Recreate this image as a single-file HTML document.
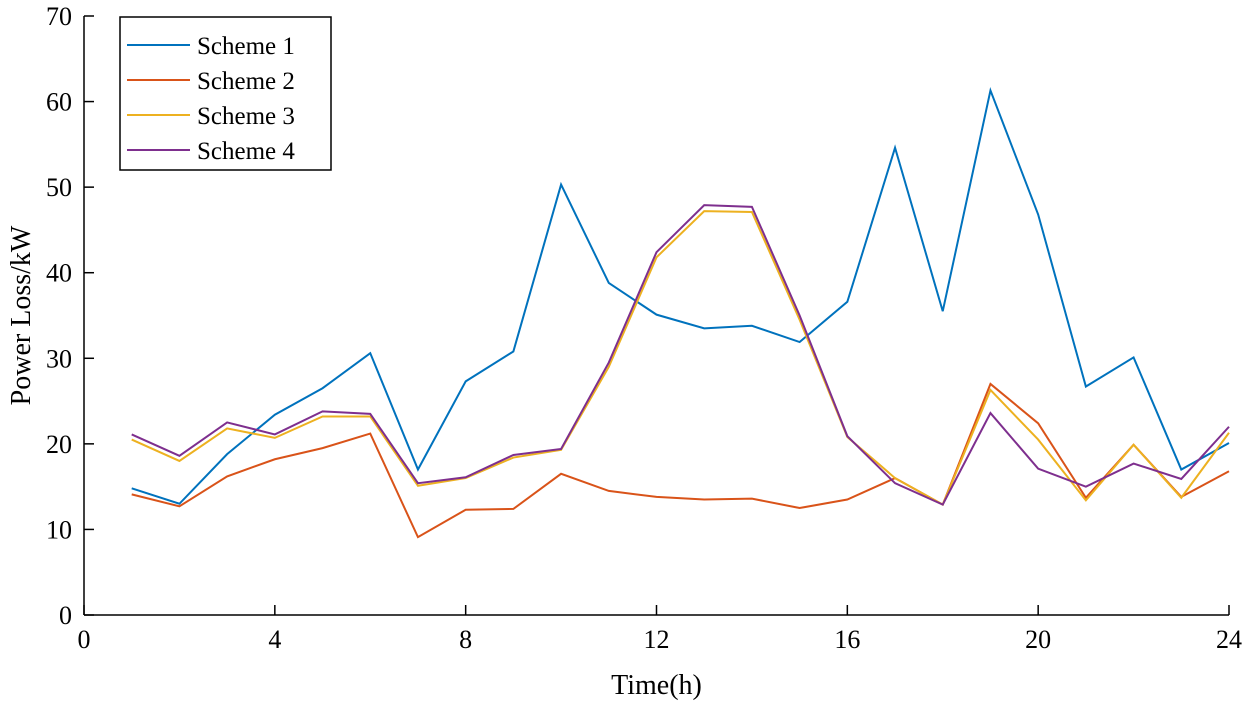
<!DOCTYPE html>
<html><head><meta charset="utf-8"><style>
body{margin:0;background:#fff}
svg{display:block}
text{font-family:"Liberation Serif",serif;fill:#000}
</style></head><body>
<svg id="chart" width="1250" height="707" xmlns="http://www.w3.org/2000/svg"></svg>
<script>
const hours=[1,2,3,4,5,6,7,8,9,10,11,12,13,14,15,16,17,18,19,20,21,22,23,24];
const scheme1=[14.8,13.0,18.8,23.4,26.5,30.6,17.0,27.3,30.8,50.3,38.8,35.1,33.5,33.8,31.9,36.6,54.6,35.5,61.3,46.8,26.7,30.1,17.0,20.1];
const scheme2=[14.1,12.7,16.2,18.2,19.5,21.2,9.1,12.3,12.4,16.5,14.5,13.8,13.5,13.6,12.5,13.5,16.0,12.9,27.0,22.4,13.7,19.9,13.8,16.8];
const scheme3=[20.5,18.0,21.8,20.7,23.2,23.2,15.1,16.0,18.4,19.3,29.0,41.8,47.2,47.1,34.5,20.8,16.0,12.9,26.3,20.5,13.4,19.9,13.7,21.3];
const scheme4=[21.1,18.6,22.5,21.1,23.8,23.5,15.4,16.1,18.7,19.4,29.5,42.4,47.9,47.7,35.0,20.9,15.4,12.9,23.6,17.1,15.0,17.7,15.9,22.0];
const xTicks=[0,4,8,12,16,20,24];
const yTicks=[0,10,20,30,40,50,60,70];
const seriesNames=["Scheme 1","Scheme 2","Scheme 3","Scheme 4"];
const colors=["#0072BD","#D95319","#EDB120","#7E2F8E"];
const NS="http://www.w3.org/2000/svg";
const svg=document.getElementById('chart');
const X0=84,X1=1229,Y0=615,Y1=16;
const xs=v=>X0+(v/24)*(X1-X0);
const ys=v=>Y0-(v/70)*(Y0-Y1);
function mk(t,a){const e=document.createElementNS(NS,t);for(const k in a)e.setAttribute(k,a[k]);svg.appendChild(e);return e;}
let e;
e=mk('line',{x1:X0,y1:Y0,x2:X1,y2:Y0,stroke:'#000','stroke-width':1.5});


e=mk('line',{x1:X0,y1:Y0,x2:X0,y2:Y1,stroke:'#000','stroke-width':1.5});


xTicks.forEach(t=>{
 e=mk('line',{x1:xs(t),y1:Y0,x2:xs(t),y2:Y0-10,stroke:'#000','stroke-width':1.5});
 
 
 e=mk('text',{x:xs(t),y:Y0+33,'text-anchor':'middle','font-size':26});e.textContent=t;
 
 
});
yTicks.forEach(t=>{
 e=mk('line',{x1:X0,y1:ys(t),x2:X0+10,y2:ys(t),stroke:'#000','stroke-width':1.5});
 
 
 e=mk('text',{x:X0-12,y:ys(t)+9,'text-anchor':'end','font-size':26});e.textContent=t;
 
 
});
e=mk('text',{x:(X0+X1)/2,y:694,'text-anchor':'middle','font-size':28});e.textContent='Time(h)';


e=mk('text',{x:0,y:0,'text-anchor':'middle','font-size':28,transform:'translate(30,'+((Y0+Y1)/2)+') rotate(-90)'});e.textContent='Power Loss/kW';


[scheme1,scheme2,scheme3,scheme4].forEach((s,i)=>{
 e=mk('polyline',{points:s.map((v,j)=>xs(hours[j])+','+ys(v)).join(' '),fill:'none',stroke:colors[i],'stroke-width':2});
 
 
});
e=mk('rect',{x:120,y:17,width:211,height:153,fill:'#fff',stroke:'#000','stroke-width':1.5});


seriesNames.forEach((n,i)=>{
 const y=45+i*35;
 e=mk('line',{x1:127,y1:y,x2:190,y2:y,stroke:colors[i],'stroke-width':2});
 
 
 e=mk('text',{x:197,y:y+9,'font-size':25});e.textContent=n;
 
 
});
</script>
</body></html>
